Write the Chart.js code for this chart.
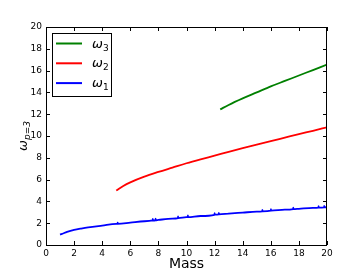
<!DOCTYPE html>
<html>
<head>
<meta charset="utf-8">
<script src="https://cdn.jsdelivr.net/npm/chart.js@4/dist/chart.umd.min.js"></script>
<style>
  html, body { margin: 0; padding: 0; background: #fff; }
  canvas { display: block; }
</style>
</head>
<body>
<canvas id="chart" width="363" height="273"></canvas>
<script>
// values
const seriesNames = ['ω', 'ω', 'ω']
const seriesSubs = ['1', '2', '3']

const omega1X = [1, 1.25, 1.5, 2, 2.5, 3, 4, 5, 5.09, 5.1, 5.11, 6, 7, 7.59, 7.6, 7.61, 7.79, 7.8, 7.81, 8, 9, 9.39, 9.4, 9.41, 10, 10.09, 10.1, 10.11, 11, 11.99, 12, 12.01, 12.29, 12.3, 12.31, 13, 14, 15, 15.39, 15.4, 15.41, 16, 16.01, 16.02, 17, 17.59, 17.6, 17.61, 18, 19, 19.39, 19.4, 19.41, 19.79, 19.8, 19.81, 20]
const omega1Y = [0.95, 1.08, 1.2, 1.38, 1.51, 1.62, 1.78, 1.93, 1.94, 2.06, 1.94, 2.05, 2.18, 2.25, 2.4, 2.25, 2.27, 2.42, 2.27, 2.3, 2.42, 2.47, 2.62, 2.47, 2.55, 2.56, 2.72, 2.56, 2.66, 2.77, 2.92, 2.78, 2.81, 2.95, 2.81, 2.88, 2.97, 3.06, 3.09, 3.22, 3.09, 3.15, 3.28, 3.15, 3.24, 3.29, 3.42, 3.29, 3.32, 3.4, 3.43, 3.56, 3.43, 3.45, 3.58, 3.45, 3.47]

const omega2X = [5, 5.5, 6, 7, 8, 9, 10, 11, 12, 13, 14, 15, 16, 17, 18, 19, 20]
const omega2Y = [5.0, 5.42, 5.75, 6.27, 6.7, 7.1, 7.5, 7.86, 8.2, 8.55, 8.88, 9.2, 9.53, 9.85, 10.17, 10.48, 10.8]

const omega3X = [12.4, 13, 14, 15, 16, 17, 18, 19, 20]
const omega3Y = [12.44, 12.85, 13.45, 14.0, 14.55, 15.05, 15.55, 16.05, 16.55]

const xTicks = [0, 2, 4, 6, 8, 10, 12, 14, 16, 18, 20]
const yTicks = [0, 2, 4, 6, 8, 10, 12, 14, 16, 18, 20]
const xTitle = 'Mass'
const yTitle = 'ω'
const yTitleSub = 'p=3'

const toPoints = (xs, ys) => xs.map((x, i) => ({ x, y: ys[i] }))

const colors = ['#0000ff', '#ff0000', '#008000']

const frameAndTicks = {
  id: 'frameAndTicks',
  afterDatasetsDraw(chart) {
    const { ctx, chartArea: a, scales } = chart
    ctx.save()
    ctx.strokeStyle = '#000'
    ctx.lineWidth = 1
    ctx.beginPath()
    xTicks.forEach((v) => {
      const px = Math.round(scales.x.getPixelForValue(v)) + 0.5
      ctx.moveTo(px, a.bottom); ctx.lineTo(px, a.bottom - 4)
      ctx.moveTo(px, a.top); ctx.lineTo(px, a.top + 4)
    })
    yTicks.forEach((v) => {
      const py = Math.round(scales.y.getPixelForValue(v)) + 0.5
      ctx.moveTo(a.left, py); ctx.lineTo(a.left + 4, py)
      ctx.moveTo(a.right, py); ctx.lineTo(a.right - 4, py)
    })
    ctx.stroke()
    ctx.strokeRect(a.left + 0.5, a.top + 0.5, a.right - a.left - 1, a.bottom - a.top)

    // legend box, top-left inside the axes, highest series first
    const bx = a.left + 6, by = a.top + 6, bw = 59, bh = 63
    ctx.fillStyle = '#fff'
    ctx.fillRect(bx, by, bw, bh)
    ctx.strokeRect(bx + 0.5, by + 0.5, bw, bh)
    const order = [2, 1, 0]
    order.forEach((idx, row) => {
      const ly = by + 10.5 + row * 19.8
      ctx.strokeStyle = colors[idx]
      ctx.lineWidth = 2
      ctx.beginPath()
      ctx.moveTo(bx + 4, ly); ctx.lineTo(bx + 30, ly)
      ctx.stroke()
      ctx.fillStyle = '#000'
      ctx.textBaseline = 'alphabetic'
      ctx.textAlign = 'left'
      ctx.font = 'italic 13px "DejaVu Sans"'
      ctx.fillText(seriesNames[idx], bx + 40, ly + 4)
      const w = ctx.measureText(seriesNames[idx]).width
      ctx.font = '9px "DejaVu Sans"'
      ctx.fillText(seriesSubs[idx], bx + 40 + w, ly + 7)
    })

    // axis titles
    ctx.fillStyle = '#000'
    ctx.font = '14px "DejaVu Sans"'
    ctx.textAlign = 'center'
    ctx.textBaseline = 'alphabetic'
    ctx.fillText(xTitle, (a.left + a.right) / 2, 268)

    ctx.translate(27, (a.top + a.bottom) / 2)
    ctx.rotate(-Math.PI / 2)
    ctx.font = 'italic 13px "DejaVu Sans"'
    ctx.textAlign = 'left'
    const ow = ctx.measureText(yTitle).width
    ctx.font = 'italic 9px "DejaVu Sans"'
    const sw = ctx.measureText(yTitleSub).width
    const start = -(ow + sw) / 2
    ctx.font = 'italic 13px "DejaVu Sans"'
    ctx.fillText(yTitle, start, 0)
    ctx.font = 'italic 9px "DejaVu Sans"'
    ctx.fillText(yTitleSub, start + ow, 3)
    ctx.restore()
  },
}

const lineStyle = (color) => ({
  borderColor: color,
  backgroundColor: color,
  borderWidth: 1.8,
  pointRadius: 0,
  cubicInterpolationMode: 'monotone',
  fill: false,
})

new Chart(document.getElementById('chart'), {
  type: 'line',
  data: {
    datasets: [
      { label: 'ω1', data: toPoints(omega1X, omega1Y), ...lineStyle(colors[0]) },
      { label: 'ω2', data: toPoints(omega2X, omega2Y), ...lineStyle(colors[1]) },
      { label: 'ω3', data: toPoints(omega3X, omega3Y), ...lineStyle(colors[2]) },
    ],
  },
  options: {
    responsive: false,
    devicePixelRatio: 1,
    animation: false,
    layout: { padding: { top: 27, right: 36, left: 0, bottom: 0 } },
    plugins: { legend: { display: false }, tooltip: { enabled: false } },
    scales: {
      x: {
        type: 'linear',
        min: 0,
        max: 20,
        afterFit: (s) => { s.height = 28 },
        afterBuildTicks: (s) => { s.ticks = xTicks.map((value) => ({ value })) },
        grid: { display: false, drawTicks: false },
        border: { display: false },
        ticks: { padding: 3, color: '#000', font: { size: 9, family: 'DejaVu Sans' }, maxRotation: 0 },
      },
      y: {
        type: 'linear',
        min: 0,
        max: 20,
        afterFit: (s) => { s.width = 46 },
        afterBuildTicks: (s) => { s.ticks = yTicks.map((value) => ({ value })) },
        grid: { display: false, drawTicks: false },
        border: { display: false },
        ticks: { padding: 4, color: '#000', font: { size: 9, family: 'DejaVu Sans' } },
      },
    },
  },
  plugins: [frameAndTicks],
})
</script>
</body>
</html>
